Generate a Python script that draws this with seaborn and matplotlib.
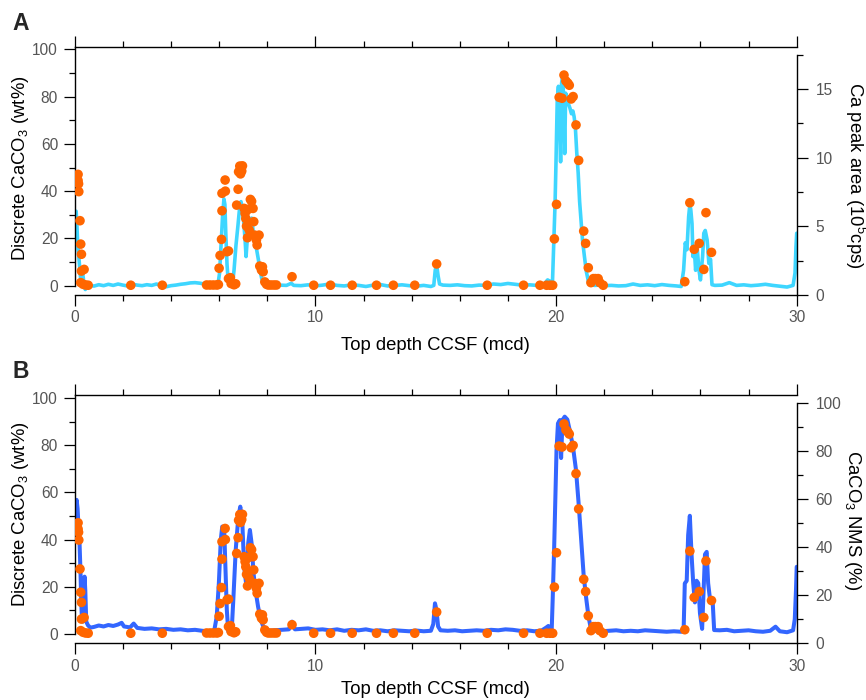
import matplotlib
matplotlib.use("Agg")
import matplotlib.pyplot as plt
from matplotlib.ticker import MultipleLocator, FixedLocator
import seaborn as sns

# ---- discrete CaCO3 measurements (wt%) ----
discrete_depth = [
    0.14, 0.14, 0.16, 0.17, 0.22, 0.25, 0.28, 0.28, 0.39, 0.25, 0.35, 0.45, 0.56,
    2.33, 3.64, 5.48, 5.62, 5.76, 5.90, 5.97, 6.00, 6.04, 6.10, 6.12, 6.12, 6.26,
    6.25, 6.33, 6.39, 6.39, 6.47, 6.50, 6.62, 6.69, 6.73, 6.79, 6.81, 6.86, 6.97,
    6.94, 6.89, 7.04, 7.08, 7.11, 7.14, 7.18, 7.21, 7.25, 7.30, 7.35, 7.41, 7.44,
    7.48, 7.55, 7.58, 7.66, 7.69, 7.76, 7.80, 7.83, 7.90, 7.97, 8.04, 8.15, 8.27,
    8.38, 9.03, 9.93, 10.63, 11.53, 12.54, 13.24, 14.13, 15.04, 17.14, 18.65,
    19.33, 19.61, 19.75, 19.86, 19.93, 20.02, 20.13, 20.25, 20.33, 20.41, 20.49,
    20.55, 20.63, 20.71, 20.83, 20.94, 21.15, 21.23, 21.34, 21.45, 21.55, 21.64,
    21.75, 21.82, 21.96, 25.35, 25.56, 25.74, 25.95, 26.14, 26.23, 26.46,
]
discrete_caco3 = [
    47.1, 44.5, 43.1, 39.8, 27.5, 17.6, 13.3, 6.2, 6.9, 1.3, 0.6, 0.3, 0.2,
    0.2, 0.2, 0.3, 0.3, 0.3, 0.3, 0.5, 7.4, 12.8, 19.6, 31.7, 39.1, 40.0,
    44.7, 14.4, 14.7, 3.0, 3.4, 0.9, 0.4, 0.8, 34.1, 40.8, 48.2, 50.6, 50.7,
    48.5, 47.3, 32.7, 30.6, 28.4, 25.2, 20.3, 32.3, 23.6, 36.5, 35.7, 32.7, 27.1,
    21.4, 19.3, 17.2, 21.4, 8.3, 6.6, 8.0, 5.9, 1.6, 0.6, 0.3, 0.3, 0.3,
    0.3, 3.8, 0.2, 0.2, 0.2, 0.2, 0.2, 0.2, 9.2, 0.2, 0.2,
    0.2, 0.2, 0.2, 0.2, 19.8, 34.4, 79.7, 79.3, 89.1, 86.6, 85.7,
    84.8, 79.0, 80.0, 68.0, 53.0, 23.1, 17.9, 7.6, 1.3, 3.0, 3.0,
    3.0, 1.3, 0.2, 1.7, 35.1, 15.4, 17.9, 6.9, 30.9, 14.1,
]

# ---- XRF Ca peak area (10^5 cps) ----
ca_depth = [
    0.00, 0.03, 0.06, 0.09, 0.12, 0.16, 0.20, 0.24, 0.28, 0.32, 0.36, 0.40, 0.44,
    0.50, 0.60, 0.80, 1.00, 1.20, 1.40, 1.60, 1.80, 2.00, 2.20, 2.40, 2.60, 2.80,
    3.00, 3.20, 3.40, 3.60, 3.80, 4.00, 4.20, 4.40, 4.60, 4.80, 5.00, 5.20, 5.40,
    5.60, 5.80, 5.95, 6.02, 6.08, 6.14, 6.20, 6.24, 6.28, 6.33, 6.38, 6.45, 6.55,
    6.62, 6.70, 6.78, 6.86, 6.91, 6.96, 7.02, 7.08, 7.12, 7.16, 7.21, 7.28, 7.35,
    7.42, 7.50, 7.57, 7.63, 7.70, 7.77, 7.84, 7.92, 8.10, 8.30, 8.50, 8.80, 9.00,
    9.10, 9.40, 9.70, 10.0, 10.3, 10.6, 10.9, 11.2, 11.5, 11.8, 12.1, 12.4, 12.7,
    13.0, 13.3, 13.6, 13.9, 14.2, 14.5, 14.8, 14.92, 14.98, 15.04, 15.10, 15.16,
    15.30, 15.6, 15.9, 16.2, 16.5, 16.8, 17.1, 17.4, 17.7, 18.0, 18.3, 18.6, 18.9,
    19.2, 19.5, 19.65, 19.75, 19.85, 19.90, 19.96, 20.00, 20.05, 20.10, 20.15,
    20.19, 20.23, 20.28, 20.32, 20.36, 20.40, 20.46, 20.52, 20.58, 20.64, 20.70,
    20.75, 20.80, 20.86, 20.92, 20.98, 21.04, 21.10, 21.18, 21.26, 21.35, 21.45,
    21.60, 21.8, 22.0, 22.3, 22.6, 22.9, 23.2, 23.5, 23.8, 24.1, 24.4, 24.7, 25.0,
    25.2, 25.30, 25.37, 25.44, 25.51, 25.56, 25.60, 25.65, 25.69, 25.74, 25.80,
    25.87, 25.94, 26.00, 26.09, 26.14, 26.20, 26.28, 26.35, 26.42, 26.48, 26.6,
    26.9, 27.2, 27.5, 27.8, 28.1, 28.4, 28.7, 29.0, 29.3, 29.6, 29.85, 29.93,
    29.97, 30.00,
]
ca_area = [
    4.2, 5.8, 6.1, 5.2, 3.9, 3.0, 2.2, 1.3, 1.0, 1.7, 1.2, 0.6, 0.4,
    0.6, 0.7, 0.65, 0.75, 0.68, 0.78, 0.70, 0.80, 0.72, 0.66, 0.78, 0.72, 0.68,
    0.75, 0.70, 0.80, 0.66, 0.60, 0.68, 0.72, 0.78, 0.82, 0.88, 0.90, 0.86, 0.80,
    0.72, 0.70, 0.75, 1.6, 3.6, 5.6, 7.0, 6.6, 4.4, 2.2, 1.0, 0.7, 0.7,
    1.8, 3.6, 5.0, 6.5, 6.8, 6.3, 5.4, 4.0, 2.8, 3.8, 5.2, 5.4, 5.6,
    4.6, 3.9, 3.2, 2.6, 1.8, 1.2, 0.9, 0.72, 0.70, 0.66, 0.72, 0.70, 0.85,
    0.70, 0.68, 0.74, 0.66, 0.72, 0.80, 0.70, 0.66, 0.74, 0.70, 0.62, 0.72, 0.76,
    0.66, 0.70, 0.74, 0.68, 0.64, 0.70, 0.62, 0.70, 1.8, 2.2, 1.4, 0.8,
    0.72, 0.70, 0.74, 0.68, 0.66, 0.72, 0.70, 0.80, 0.76, 0.84, 0.78, 0.72, 0.74,
    0.70, 0.78, 1.1, 1.0, 0.8, 3.5, 6.7, 9.8, 14.2, 15.2, 12.5,
    9.7, 15.4, 16.1, 14.0, 10.3, 14.7, 14.3, 13.9, 13.6, 13.2, 13.4,
    13.0, 12.3, 10.4, 8.9, 6.8, 5.4, 4.0, 2.8, 1.7, 0.95, 0.75,
    0.70, 0.72, 0.68, 0.70, 0.66, 0.68, 0.80, 0.70, 0.74, 0.68, 0.76, 0.70, 0.66,
    0.62, 1.8, 3.8, 3.3, 5.7, 6.6, 6.2, 5.2, 2.8, 3.5, 1.8,
    3.3, 1.8, 1.1, 2.8, 4.5, 4.7, 4.0, 2.3, 2.6, 0.75, 0.70,
    0.72, 0.90, 0.70, 0.74, 0.68, 0.72, 0.78, 0.70, 0.64, 0.58, 0.70, 1.6,
    3.5, 4.5,
]

# ---- CaCO3 from NMS regression (%) ----
nms_depth = [
    0.00, 0.04, 0.08, 0.12, 0.16, 0.20, 0.24, 0.27, 0.30, 0.34, 0.38, 0.41, 0.44,
    0.48, 0.55, 0.65, 0.80, 1.00, 1.20, 1.40, 1.60, 1.80, 1.95, 2.05, 2.30, 2.45,
    2.60, 2.90, 3.20, 3.50, 3.80, 4.10, 4.40, 4.70, 5.00, 5.30, 5.60, 5.80, 5.90,
    5.99, 6.07, 6.13, 6.21, 6.26, 6.32, 6.38, 6.52, 6.59, 6.69, 6.80, 6.88, 6.96,
    7.04, 7.12, 7.21, 7.28, 7.35, 7.43, 7.51, 7.62, 7.73, 7.87, 8.03, 8.30, 8.60,
    8.90, 9.03, 9.15, 9.40, 9.70, 10.0, 10.3, 10.6, 10.9, 11.2, 11.5, 11.8, 12.1,
    12.4, 12.7, 13.0, 13.3, 13.6, 13.9, 14.2, 14.5, 14.8, 14.90, 14.97, 15.03,
    15.10, 15.20, 15.5, 15.8, 16.1, 16.4, 16.7, 17.0, 17.3, 17.6, 17.9, 18.2,
    18.5, 18.8, 19.1, 19.4, 19.60, 19.68, 19.76, 19.82, 19.86, 19.92, 19.97,
    20.02, 20.08, 20.16, 20.21, 20.27, 20.36, 20.47, 20.58, 20.70, 20.83, 20.94,
    21.05, 21.15, 21.25, 21.35, 21.45, 21.60, 21.9, 22.2, 22.5, 22.8, 23.1, 23.4,
    23.7, 24.0, 24.3, 24.6, 24.9, 25.2, 25.30, 25.35, 25.43, 25.49, 25.56, 25.63,
    25.70, 25.77, 25.84, 25.91, 25.98, 26.07, 26.19, 26.26, 26.32, 26.39, 26.51,
    26.57, 26.8, 27.1, 27.4, 27.7, 28.0, 28.3, 28.6, 28.9, 29.12, 29.3, 29.6,
    29.85, 29.92, 29.97, 30.00,
]
nms_caco3 = [
    52.0, 58.0, 59.6, 56.0, 48.0, 42.0, 30.0, 18.0, 10.0, 9.0, 20.0, 27.7, 22.0,
    9.0, 7.5, 6.5, 6.8, 7.4, 7.0, 7.6, 7.2, 7.8, 8.5, 7.0, 6.6, 8.2,
    6.4, 6.0, 6.2, 5.8, 6.0, 5.6, 5.8, 5.4, 5.6, 5.2, 5.0, 5.4, 11.0,
    25.0, 43.0, 48.5, 47.8, 32.0, 14.0, 5.0, 4.6, 18.0, 38.8, 52.6, 56.8, 51.2,
    32.0, 25.0, 41.6, 47.1, 41.6, 29.1, 22.2, 15.2, 9.7, 6.2, 5.1, 5.4, 5.6,
    5.8, 9.0, 5.8, 6.0, 6.2, 5.6, 5.8, 5.4, 5.8, 5.2, 5.6, 5.4, 5.8,
    5.2, 5.4, 5.0, 5.4, 5.2, 5.0, 5.3, 5.0, 5.2, 8.0, 16.6, 14.0,
    7.0, 5.4, 5.2, 5.4, 5.0, 5.2, 5.4, 5.2, 5.6, 5.4, 5.8, 5.6,
    5.2, 5.4, 5.0, 5.3, 6.6, 7.2, 6.0, 5.5, 18.0, 38.8, 59.6,
    80.3, 91.4, 92.8, 77.0, 92.8, 94.2, 93.0, 88.0, 82.0, 72.0, 58.0,
    42.0, 28.0, 19.0, 11.0, 6.0, 5.2, 5.0, 5.2, 5.4, 5.0, 5.2, 5.0,
    5.4, 5.2, 5.0, 4.8, 5.0, 4.8, 5.0, 24.9, 26.0, 45.0, 53.0, 37.0,
    25.0, 17.0, 26.0, 25.0, 12.5, 6.0, 37.0, 38.0, 25.0, 19.0, 17.0,
    5.5, 5.4, 5.6, 5.0, 5.2, 5.4, 5.0, 4.8, 5.2, 6.9, 5.0, 4.6,
    5.4, 10.0, 22.0, 31.8,
]

ORANGE = "#FF6600"
CYAN = "#3ED6FF"
BLUE = "#3366FF"
TICK_TEXT = "#555555"

sns.set_style("ticks")
plt.rcParams["font.family"] = ["Liberation Sans", "DejaVu Sans"]
plt.rcParams["mathtext.fontset"] = "custom"
plt.rcParams["mathtext.rm"] = "Liberation Sans"
plt.rcParams["mathtext.it"] = "Liberation Sans:italic"
plt.rcParams["mathtext.bf"] = "Liberation Sans:bold"

W, H = 866, 700
fig = plt.figure(figsize=(W / 100, H / 100), dpi=100)
fig.patch.set_facecolor("white")


def add_axes_px(left, top, right, bottom):
    return fig.add_axes([left / W, 1 - bottom / H, (right - left) / W, (bottom - top) / H])


def style_panel(ax, tw, left_lim, right_lim, right_top, right_major, right_minor,
                right_label, right_label_pos, left_label_y, xlabel_y):
    ax.set_xlim(0, 30)
    ax.set_ylim(*left_lim)
    tw.set_ylim(*right_lim)

    # depth axis: ticks on bottom and top, labels only at the bottom
    ax.xaxis.set_major_locator(FixedLocator([0, 10, 20, 30]))
    ax.xaxis.set_minor_locator(MultipleLocator(2))
    ax.tick_params(axis="x", which="both", direction="out", top=True, bottom=True,
                   labeltop=False, labelbottom=True, color="black", width=0.9,
                   labelcolor=TICK_TEXT, labelsize=11.2, pad=3)
    ax.tick_params(axis="x", which="major", length=8)
    ax.tick_params(axis="x", which="minor", length=4.4)

    ax.yaxis.set_major_locator(FixedLocator([0, 20, 40, 60, 80, 100]))
    ax.yaxis.set_minor_locator(FixedLocator([10, 30, 50, 70, 90]))
    ax.tick_params(axis="y", which="both", direction="out", left=True, right=False,
                   color="black", width=0.9, labelcolor=TICK_TEXT, labelsize=11.2, pad=4)
    ax.tick_params(axis="y", which="major", length=8)
    ax.tick_params(axis="y", which="minor", length=4.4)

    tw.yaxis.set_major_locator(FixedLocator(right_major))
    tw.yaxis.set_minor_locator(FixedLocator(right_minor))
    tw.tick_params(axis="y", which="both", direction="out", right=True, left=False,
                   color="black", width=0.9, labelcolor=TICK_TEXT, labelsize=11.2, pad=5.5)
    tw.tick_params(axis="y", which="major", length=8)
    tw.tick_params(axis="y", which="minor", length=4.4)

    for side in ("top", "bottom", "left"):
        ax.spines[side].set_visible(True)
        ax.spines[side].set_linewidth(1.0)
        ax.spines[side].set_color("black")
    ax.spines["right"].set_visible(False)
    ax.spines["left"].set_bounds(0, left_lim[1])

    for side in ("top", "bottom", "left"):
        tw.spines[side].set_visible(False)
    tw.spines["right"].set_visible(True)
    tw.spines["right"].set_linewidth(1.0)
    tw.spines["right"].set_color("black")
    tw.spines["right"].set_bounds(0, right_top)

    ax.set_xlabel("Top depth CCSF (mcd)", fontsize=13.3, color="black",
                  va="center", ha="center")
    ax.xaxis.set_label_coords(0.5, xlabel_y)
    ax.set_ylabel(r"Discrete CaCO$\mathregular{_3}$ (wt%)", fontsize=13.3,
                  color="black", va="center", ha="center")
    ax.yaxis.set_label_coords(-0.0755, left_label_y)
    tw.set_ylabel(right_label, fontsize=13.3, color="black", rotation=270,
                  va="center", ha="center")
    tw.yaxis.set_label_coords(right_label_pos[0], right_label_pos[1])

    # keep the discrete samples drawn above the continuous record
    ax.set_zorder(tw.get_zorder() + 1)
    ax.patch.set_visible(False)


# ---- panel A: discrete CaCO3 vs Ca peak area ----
axA = add_axes_px(74.7, 47.3, 796.7, 295)
twA = axA.twinx()
sns.lineplot(x=ca_depth, y=ca_area, ax=twA, color=CYAN, linewidth=2.6,
             estimator=None, sort=False)
sns.scatterplot(x=discrete_depth, y=discrete_caco3, ax=axA, color=ORANGE,
                s=48, edgecolor="none", linewidth=0, zorder=5)
style_panel(axA, twA, (-3.93, 100.85), (0, 18.04), 17.5,
            [0, 5, 10, 15], [2.5, 7.5, 12.5, 17.5],
            r"Ca peak area (10$\mathregular{^5}$cps)", (1.0807, 0.484), 0.511, -0.202)

# ---- panel B: discrete CaCO3 vs NMS-predicted CaCO3 ----
axB = add_axes_px(74.7, 395, 796.7, 643.3)
twB = axB.twinx()
sns.lineplot(x=nms_depth, y=nms_caco3, ax=twB, color=BLUE, linewidth=2.9,
             estimator=None, sort=False)
sns.scatterplot(x=discrete_depth, y=discrete_caco3, ax=axB, color=ORANGE,
                s=48, edgecolor="none", linewidth=0, zorder=5)
style_panel(axB, twB, (-4.08, 101.4), (0, 103.2), 100,
            [0, 20, 40, 60, 80, 100], [10, 30, 50, 70, 90],
            r"CaCO$\mathregular{_3}$ NMS (%)", (1.077, 0.497), 0.52, -0.186)

fig.text(12 / W, 1 - 23.5 / H, "A", fontsize=16.5, fontweight="bold",
         ha="left", va="center")
fig.text(12 / W, 1 - 371 / H, "B", fontsize=16.5, fontweight="bold",
         ha="left", va="center")

fig.savefig("out.png", dpi=100, facecolor="white")
